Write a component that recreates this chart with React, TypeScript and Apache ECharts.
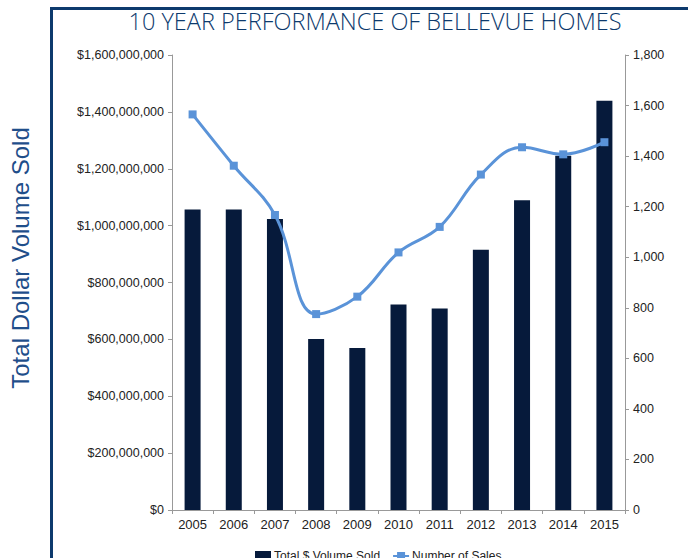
import React, { useEffect, useRef } from "react";
import * as echarts from "echarts";

const years = ["2005", "2006", "2007", "2008", "2009", "2010", "2011", "2012", "2013", "2014", "2015"];
const dollarVolume = [1057000000, 1057000000, 1023000000, 601000000, 570000000, 723000000, 709000000, 915000000, 1089000000, 1246000000, 1439000000];
const numberOfSales = [1565, 1362, 1167, 775, 844, 1019, 1120, 1327, 1435, 1407, 1455];

const frameColor = "#0d3a6d";
const barColor = "#061a3b";
const lineColor = "#5a93d8";
const labelFont = "'Liberation Sans', Arial, sans-serif";

export default function App() {
  const ref = useRef<HTMLDivElement>(null);
  useEffect(() => {
    if (!ref.current) return;
    const chart = echarts.init(ref.current, null, { renderer: "svg" });
    chart.setOption({
      animation: false,
      backgroundColor: "#ffffff",
      grid: { left: 172, right: 63, top: 55, bottom: 48, containLabel: false },
      legend: {
        top: 545,
        left: 250,
        itemWidth: 16,
        itemHeight: 10,
        itemGap: 12,
        textStyle: { fontFamily: labelFont, fontSize: 12, color: "#222", padding: [0, 0, 0, -2] },
        data: [
          { name: "Total $ Volume Sold", icon: "rect" },
          { name: "Number of Sales" },
        ],
      },
      xAxis: {
        type: "category",
        data: years,
        axisLine: { lineStyle: { color: "#999", width: 1 } },
        axisTick: { show: true, length: 4, lineStyle: { color: "#999" } },
        axisLabel: { fontFamily: labelFont, fontSize: 13, color: "#222", margin: 8 },
      },
      yAxis: [
        {
          type: "value",
          min: 0,
          max: 1600000000,
          interval: 200000000,
          splitLine: { show: false },
          axisLine: { show: true, lineStyle: { color: "#999" } },
          axisTick: { show: true, length: 4, lineStyle: { color: "#999" } },
          axisLabel: {
            fontFamily: labelFont,
            fontSize: 12.5,
            color: "#222",
            margin: 8,
            formatter: (v: number) => "$" + v.toLocaleString("en-US"),
          },
        },
        {
          type: "value",
          min: 0,
          max: 1800,
          interval: 200,
          position: "right",
          splitLine: { show: false },
          axisLine: { show: true, lineStyle: { color: "#999" } },
          axisTick: { show: true, length: 4, lineStyle: { color: "#999" } },
          axisLabel: {
            fontFamily: labelFont,
            fontSize: 12.5,
            color: "#222",
            margin: 8,
            formatter: (v: number) => v.toLocaleString("en-US"),
          },
        },
      ],
      series: [
        {
          name: "Total $ Volume Sold",
          type: "bar",
          yAxisIndex: 0,
          data: dollarVolume,
          barWidth: 16,
          itemStyle: { color: barColor },
        },
        {
          name: "Number of Sales",
          type: "line",
          yAxisIndex: 1,
          data: numberOfSales,
          smooth: 0.4,
          symbol: "rect",
          symbolSize: 8,
          lineStyle: { color: lineColor, width: 3 },
          itemStyle: { color: lineColor },
        },
      ],
      graphic: [
        { type: "line", shape: { x1: 50, y1: 8.5, x2: 688, y2: 8.5 }, style: { stroke: frameColor, lineWidth: 3 } },
        { type: "line", shape: { x1: 51.5, y1: 7, x2: 51.5, y2: 558 }, style: { stroke: frameColor, lineWidth: 3 } },
        {
          type: "text",
          x: 375,
          y: 21,
          style: {
            text: "10 YEAR PERFORMANCE OF BELLEVUE HOMES",
            fontFamily: "'Open Sans', sans-serif",
            fontWeight: 300,
            fontSize: 23.5,
            fill: frameColor,
            textAlign: "center",
            textVerticalAlign: "middle",
          },
        },
        {
          type: "text",
          x: 20,
          y: 258,
          rotation: Math.PI / 2,
          style: {
            text: "Total Dollar Volume Sold",
            fontFamily: labelFont,
            fontSize: 24,
            fill: "#1f4e8a",
            textAlign: "center",
            textVerticalAlign: "middle",
          },
        },
      ],
    });
    return () => chart.dispose();
  }, []);
  return <div ref={ref} style={{ position: "fixed", left: 0, top: 0, width: 688, height: 558 }} />;
}
